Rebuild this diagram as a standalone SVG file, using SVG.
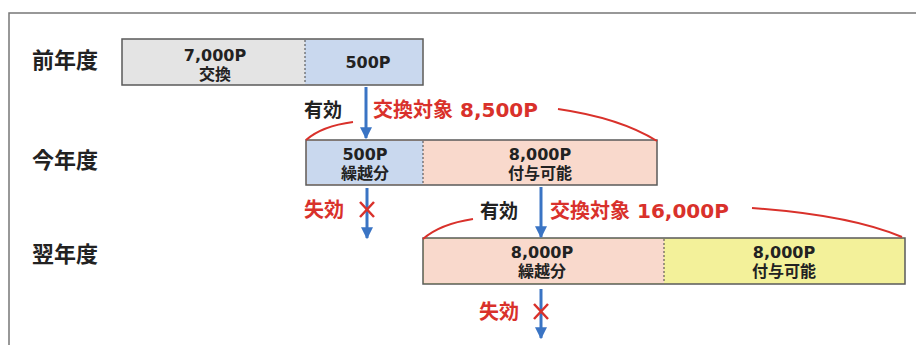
<svg xmlns="http://www.w3.org/2000/svg" width="916" height="345" viewBox="0 0 916 345">
<defs>
<style>
.lbl{font-family:"DejaVu Sans","Noto Sans CJK JP",sans-serif;font-weight:bold;fill:#222}
.row{font-size:22px}
.box{font-size:16px;text-anchor:middle}
.red{font-family:"DejaVu Sans","Noto Sans CJK JP",sans-serif;font-weight:bold;fill:#d9312b;font-size:20px}
.blk{font-size:19px}
.bx{stroke:#5a5a5a;stroke-width:1.5}
.div{stroke:#444;stroke-width:1;stroke-dasharray:2,2}
.arr{stroke:#3a74c4;stroke-width:3;fill:none;marker-end:url(#ah)}
.arc{stroke:#d9312b;stroke-width:2;fill:none}
.x{stroke:#d9312b;stroke-width:2.5}
</style>
<marker id="ah" viewBox="0 0 10 10" refX="9" refY="5" markerWidth="4" markerHeight="4" orient="auto" markerUnits="strokeWidth">
<path d="M0,0 L10,5 L0,10 z" fill="#3a74c4"/>
</marker>
</defs>
<rect width="916" height="345" fill="#fff"/>
<path d="M9,345 V13 H916" fill="none" stroke="#777" stroke-width="1.5"/>

<g id="row-labels">
<text class="lbl row" x="32" y="68">前年度</text>
<text class="lbl row" x="32" y="168">今年度</text>
<text class="lbl row" x="32" y="262">翌年度</text>
</g>

<g id="node-prev">
<rect class="bx" x="122" y="39" width="301" height="46" fill="#e4e4e4"/>
<rect x="305" y="40" width="117" height="44" fill="#c9d8ee"/>
<line class="div" x1="305" y1="40" x2="305" y2="84"/>
<text class="lbl box" x="215" y="61">7,000P</text>
<text class="lbl box" x="215" y="80">交換</text>
<text class="lbl box" x="368" y="68">500P</text>
</g>

<g id="node-current">
<rect class="bx" x="306" y="140" width="351" height="45" fill="#f9d9cc"/>
<rect x="307" y="141" width="116" height="43" fill="#c9d8ee"/>
<line class="div" x1="423" y1="141" x2="423" y2="184"/>
<text class="lbl box" x="365" y="160">500P</text>
<text class="lbl box" x="365" y="179">繰越分</text>
<text class="lbl box" x="540" y="160">8,000P</text>
<text class="lbl box" x="540" y="179">付与可能</text>
</g>

<g id="node-next">
<rect class="bx" x="423" y="238" width="482" height="46" fill="#f3f19a"/>
<rect x="424" y="239" width="240" height="44" fill="#f9d9cc"/>
<line class="div" x1="664" y1="239" x2="664" y2="283"/>
<text class="lbl box" x="542" y="258">8,000P</text>
<text class="lbl box" x="542" y="277">繰越分</text>
<text class="lbl box" x="784" y="258">8,000P</text>
<text class="lbl box" x="784" y="277">付与可能</text>
</g>

<g id="connectors">
<line class="arr" x1="366" y1="87" x2="366" y2="138"/>
<line class="arr" x1="367" y1="188" x2="367" y2="238"/>
<line class="arr" x1="541" y1="187" x2="541" y2="237"/>
<line class="arr" x1="541" y1="289" x2="541" y2="338"/>
<path class="arc" d="M306,140 Q322,126 353,122"/>
<path class="arc" d="M558,109 Q620,118 657,141"/>
<path class="arc" d="M423,239 Q440,224 473,219"/>
<path class="arc" d="M752,208 Q850,215 902,237"/>
<path class="x" d="M360,202 L374,217 M374,202 L360,217"/>
<path class="x" d="M534,304 L548,319 M548,304 L534,319"/>
</g>

<g id="labels">
<text class="lbl blk" x="304" y="117">有効</text>
<text class="red" x="373" y="117">交換対象 8,500P</text>
<text class="red" x="304" y="217">失効</text>
<text class="lbl blk" x="480" y="218">有効</text>
<text class="red" x="550" y="218">交換対象 16,000P</text>
<text class="red" x="479" y="319">失効</text>
</g>
</svg>
